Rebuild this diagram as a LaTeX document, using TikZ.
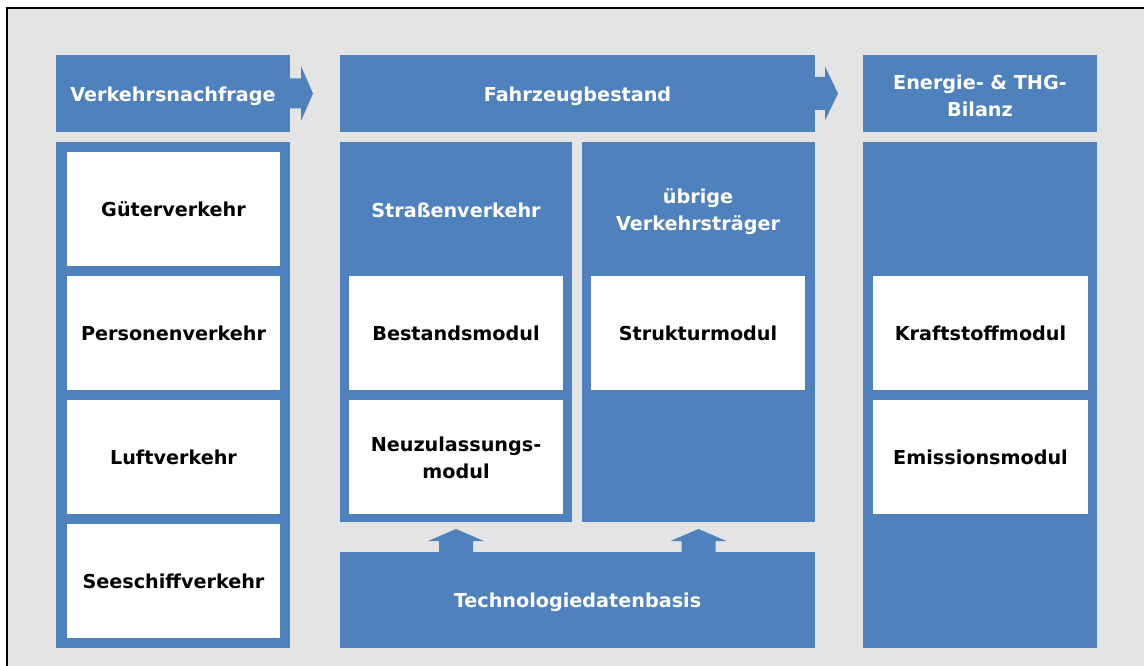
\documentclass[tikz,border=0pt]{standalone}
\usepackage{fontspec}
\setmainfont{DejaVu Sans}
\usetikzlibrary{calc}
\definecolor{blu}{HTML}{4F81BD}
\definecolor{bg}{HTML}{E4E4E4}
\begin{document}
\begin{tikzpicture}[x=1pt,y=-1pt,
  txt/.style={font=\bfseries\fontsize{19.2}{27}\selectfont, align=center},
  bluebox/.style={rectangle, fill=blu, draw=none, inner sep=0pt, outer sep=0pt, text=white, txt},
  whitebox/.style={rectangle, fill=white, draw=none, inner sep=0pt, outer sep=0pt, text=black, txt},
  lbl/.style={inner sep=0pt, text=white, txt},
  blockarrow/.style={fill=blu, draw=none}]
\useasboundingbox (0,0) rectangle (1144,666);
% background frame
\fill[bg] (7,8) rectangle (1144,666);
\draw[black, line width=2pt] (1144,8) -- (7,8) -- (7,666);

% headers
\node[bluebox, minimum width=234pt, minimum height=77pt] (h1) at (173,93.5) {};
\node[lbl] (h1l) at (173,96.5) {Verkehrsnachfrage};
\node[bluebox, minimum width=475pt, minimum height=77pt] (h2) at (577.5,93.5) {};
\node[lbl] (h2l) at (577.5,96.5) {Fahrzeugbestand};
\node[bluebox, minimum width=234pt, minimum height=77pt] (h3) at (980,93.5) {};
\node[lbl] (h3l) at (980,96) {Energie- \& THG-\\Bilanz};

% header arrows
\fill[blockarrow] ($(h1.east)+(-1,-15)$) -- ($(h1.east)+(11,-15)$) -- ($(h1.east)+(11,-27.5)$)
  -- ($(h1.east)+(23,0)$) -- ($(h1.east)+(11,27.5)$) -- ($(h1.east)+(11,15)$) -- ($(h1.east)+(-1,15)$) -- cycle;
\fill[blockarrow] ($(h2.east)+(-1,-16.5)$) -- ($(h2.east)+(10,-16.5)$) -- ($(h2.east)+(10,-27)$)
  -- ($(h2.east)+(23,0)$) -- ($(h2.east)+(10,27)$) -- ($(h2.east)+(10,16.5)$) -- ($(h2.east)+(-1,16.5)$) -- cycle;

% left column
\node[bluebox, minimum width=234pt, minimum height=506pt] (b1) at (173,395) {};
\node[whitebox, minimum width=213pt, minimum height=114pt] (g1) at (173.5,209) {Güterverkehr};
\node[whitebox, minimum width=213pt, minimum height=114pt] (g2) at (173.5,333) {Personenverkehr};
\node[whitebox, minimum width=213pt, minimum height=114pt] (g3) at (173.5,457) {Luftverkehr};
\node[whitebox, minimum width=213pt, minimum height=114pt] (g4) at (173.5,581) {Seeschiffverkehr};

% middle column
\node[bluebox, minimum width=232pt, minimum height=380pt] (sv) at (456,332) {};
\node[lbl] (svl) at (456,210) {Straßenverkehr};
\node[whitebox, minimum width=214pt, minimum height=114pt] (bm) at (456,333) {Bestandsmodul};
\node[whitebox, minimum width=214pt, minimum height=114pt] (nm) at (456,457) {};
\node[lbl, text=black] (nml) at (456,458) {Neuzulassungs-\\modul};

\node[bluebox, minimum width=233pt, minimum height=380pt] (uv) at (698.5,332) {};
\node[lbl] (uvl) at (698,211.5) {übrige\\Verkehrsträger};
\node[whitebox, minimum width=214pt, minimum height=114pt] (sm) at (698,333) {Strukturmodul};

\node[bluebox, minimum width=475pt, minimum height=96pt] (tech) at (577.5,600) {};
\node[lbl] (techl) at (577.5,602) {Technologiedatenbasis};

% up arrows
\foreach \p in {sv,uv}{
  \fill[blockarrow] ($(tech.north -| \p.south)+(-17,1)$) -- ($(tech.north -| \p.south)+(-17,-11)$)
    -- ($(tech.north -| \p.south)+(-28,-11)$) -- ($(tech.north -| \p.south)+(0,-23)$)
    -- ($(tech.north -| \p.south)+(28,-11)$) -- ($(tech.north -| \p.south)+(17,-11)$)
    -- ($(tech.north -| \p.south)+(17,1)$) -- cycle;
}

% right column
\node[bluebox, minimum width=234pt, minimum height=506pt] (b3) at (980,395) {};
\node[whitebox, minimum width=215pt, minimum height=114pt] (km) at (980.5,333) {Kraftstoffmodul};
\node[whitebox, minimum width=215pt, minimum height=114pt] (em) at (980.5,457) {Emissionsmodul};
\end{tikzpicture}
\end{document}
